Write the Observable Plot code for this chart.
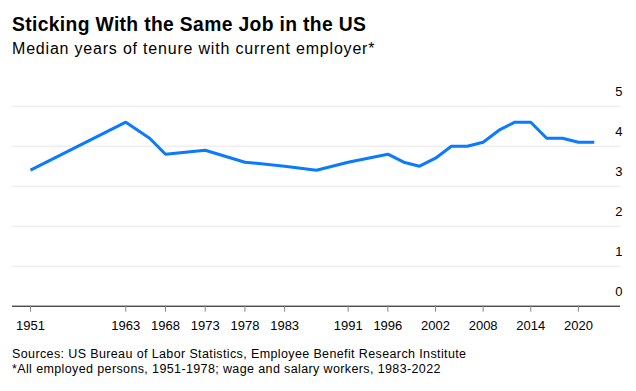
<!DOCTYPE html>
<html>
<head>
<meta charset="utf-8">
<script src="https://cdn.jsdelivr.net/npm/d3@7"></script>
<script src="https://cdn.jsdelivr.net/npm/@observablehq/plot@0.6"></script>
<style>
  html, body { margin: 0; padding: 0; background: #fff; }
  body { width: 636px; height: 391px; position: relative; overflow: hidden;
         font-family: "Liberation Sans", Arial, Helvetica, sans-serif; color: #000; }
  .title { position: absolute; left: 12px; top: 16.3px; font-size: 19.3px; line-height: 18px; font-weight: bold; letter-spacing: 0.35px; white-space: nowrap; }
  .subtitle { position: absolute; left: 12px; top: 40.8px; font-size: 16px; line-height: 16px; letter-spacing: 0.8px; white-space: nowrap; }
  #chart { position: absolute; left: 0; top: 70px; }
  .caption { position: absolute; left: 12px; top: 347px; font-size: 12.5px; line-height: 15px; letter-spacing: 0.38px; white-space: nowrap; }
</style>
</head>
<body>
<div class="title">Sticking With the Same Job in the US</div>
<div class="subtitle">Median years of tenure with current employer*</div>
<div id="chart"></div>
<div class="caption">Sources: US Bureau of Labor Statistics, Employee Benefit Research Institute<br>*All employed persons, 1951-1978; wage and salary workers, 1983-2022</div>
<script>
const years  = [1951, 1963, 1966, 1968, 1973, 1978, 1983, 1987, 1991, 1996, 1998, 2000, 2002, 2004, 2006, 2008, 2010, 2012, 2014, 2016, 2018, 2020, 2022];
const tenure = [3.4, 4.6, 4.2, 3.8, 3.9, 3.6, 3.5, 3.4, 3.6, 3.8, 3.6, 3.5, 3.7, 4.0, 4.0, 4.1, 4.4, 4.6, 4.6, 4.2, 4.2, 4.1, 4.1];
const xTicks = [1951, 1963, 1968, 1973, 1978, 1983, 1991, 1996, 2002, 2008, 2014, 2020];
const yTicks = [0, 1, 2, 3, 4, 5];

const data = years.map((year, i) => ({year, value: tenure[i]}));
const gridTicks = yTicks.filter(d => d !== 0);

const chart = Plot.plot({
  width: 636,
  height: 270,
  marginLeft: 12,
  marginRight: 16,
  marginTop: 35.7,
  marginBottom: 34.3,
  style: {fontFamily: "'Liberation Sans', Arial, Helvetica, sans-serif", fontSize: "13px", background: "#fff", color: "#000"},
  x: {type: "linear", domain: [1948.73, 2025.3]},
  y: {domain: [0, 5]},
  marks: [
    Plot.ruleY(gridTicks, {y: d => d, stroke: "#efefef", strokeWidth: 1.5}),
    Plot.ruleY([0], {stroke: "#000", strokeWidth: 1}),
    Plot.axisX({ticks: xTicks, tickSize: 6, tickPadding: 9, tickFormat: d => String(d), stroke: "#888", fill: "#000", fontSize: 13, label: null}),
    Plot.axisY({ticks: [], label: null}),
    Plot.text(yTicks, {y: d => d, text: d => String(d), frameAnchor: "right", textAnchor: "end", dx: 2, dy: -14, fontSize: 13, fill: "#000"}),
    Plot.line(data, {x: "year", y: "value", stroke: "#0a7aff", strokeWidth: 3, strokeLinejoin: "miter", strokeLinecap: "butt"})
  ]
});
document.getElementById("chart").appendChild(chart);
</script>
</body>
</html>
